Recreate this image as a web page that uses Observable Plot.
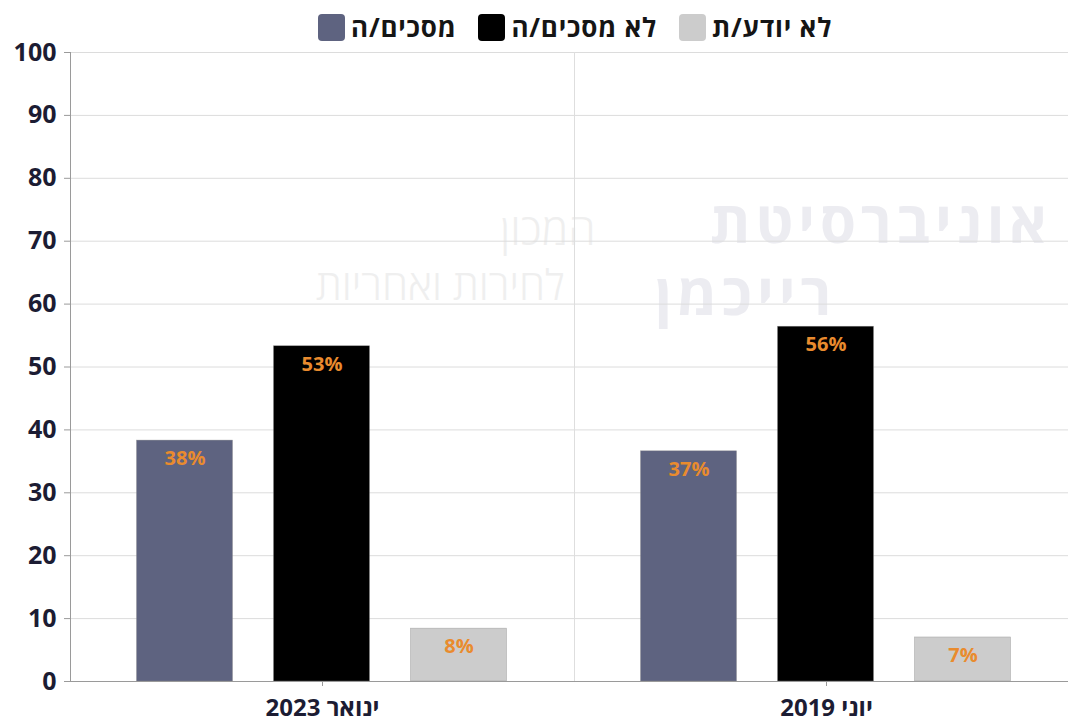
<!DOCTYPE html>
<html lang="he">
<head>
<meta charset="utf-8">
<script src="https://cdn.jsdelivr.net/npm/d3@7"></script>
<script src="https://cdn.jsdelivr.net/npm/@observablehq/plot@0.6"></script>
<style>
  html, body { margin: 0; padding: 0; background: #fff; overflow: hidden; width: 1068px; height: 724px; }
  body { position: relative; font-family: "Open Sans", "DejaVu Sans", sans-serif; }
  #legend { position: absolute; left: 318px; top: 13px; display: flex; direction: ltr; align-items: center; gap: 22px; }
  .item { display: flex; align-items: center; gap: 6px; }
  .sw { width: 27px; height: 27px; border-radius: 4px; display: inline-block; }
  .lt { font-size: 26px; font-weight: 700; color: #151515; line-height: 28px; letter-spacing: 0.8px; }
  #chart { position: absolute; left: 0; top: 40px; width: 1079px; }
  #chart svg { max-width: none !important; }
  .wm { position: absolute; direction: rtl; white-space: nowrap; pointer-events: none; line-height: 1; }
</style>
</head>
<body>
<div class="wm" style="right:16px; top:192px; font-size:58px; font-weight:700; color:#ececf1; letter-spacing:5px;">אוניברסיטת</div>
<div class="wm" style="left:655px; top:264px; font-size:58px; font-weight:700; color:#ececf1; letter-spacing:5px;">רייכמן</div>
<div class="wm" style="left:500px; top:206px; font-size:44px; font-weight:300; color:#efefef;">המכון</div>
<div class="wm" style="left:316px; top:263px; font-size:42px; font-weight:300; color:#efefef;">לחירות ואחריות</div>
<div id="legend"></div>
<div id="chart"></div>
<script>
const groups = ["ינואר 2023", "יוני 2019"];
const series = ["מסכים/ה", "לא מסכים/ה", "לא יודע/ת"];
const colors = ["#5e6380", "#000000", "#cccccc"];
const values2023 = [38.3, 53.3, 8.4];
const values2019 = [36.6, 56.4, 7.0];
const labels2023 = ["38%", "53%", "8%"];
const labels2019 = ["37%", "56%", "7%"];
const yTicks = [0, 10, 20, 30, 40, 50, 60, 70, 80, 90, 100];

const data = [];
series.forEach((s, i) => {
  data.push({group: groups[0], series: s, value: values2023[i], label: labels2023[i]});
  data.push({group: groups[1], series: s, value: values2019[i], label: labels2019[i]});
});

// legend
const legend = document.getElementById("legend");
series.forEach((s, i) => {
  const it = document.createElement("div");
  it.className = "item";
  const sw = document.createElement("span");
  sw.className = "sw";
  sw.style.background = colors[i];
  const t = document.createElement("span");
  t.className = "lt";
  t.dir = "rtl";
  t.textContent = s;
  it.appendChild(sw);
  it.appendChild(t);
  legend.appendChild(it);
});

const chart = Plot.plot({
  width: 1079,
  height: 684,
  marginLeft: 69.5,
  marginRight: 0,
  marginTop: 12,
  marginBottom: 43,
  style: {fontFamily: "'Open Sans', 'DejaVu Sans', sans-serif", background: "transparent", overflow: "visible", maxWidth: "none"},
  fx: {domain: groups, padding: 0, axis: null},
  x: {domain: series, paddingInner: 0.297, paddingOuter: 0.476, axis: null},
  y: {domain: [0, 100], axis: null},
  color: {domain: series, range: colors},
  marks: [
    Plot.gridY(yTicks, {stroke: "#dcdcdc", strokeOpacity: 1}),
    Plot.frame({anchor: "left", stroke: "#dedede"}),
    Plot.frame({anchor: "left", stroke: "#9a9a9a", facetAnchor: "left"}),
    Plot.barY(data, {fx: "group", x: "series", y: "value", fill: "series", stroke: "#8a8a8a", strokeWidth: 0.6, strokeOpacity: 0.6}),
    Plot.ruleY([0], {stroke: "#9a9a9a", strokeWidth: 1.2}),
    Plot.text(data, {fx: "group", x: "series", y: "value", text: "label", dy: 18, fill: "#e98b2e", fontSize: 20, fontWeight: 700}),
    Plot.axisY({ticks: yTicks, tickSize: 6, tickPadding: 8, stroke: "#9a9a9a", fill: "#1c1c33", fontSize: 25, fontWeight: 700, label: null}),
    Plot.axisFx({anchor: "bottom", tickSize: 5, tickPadding: 12, stroke: "#9a9a9a", fill: "#1c1c33", fontSize: 24, fontWeight: 700, label: null})
  ]
});
chart.style.maxWidth = "none";

chart.querySelectorAll("[aria-label='fx-axis tick label'] text").forEach(t => {
  t.setAttribute("direction", "rtl");
  t.style.direction = "rtl";
  t.setAttribute("unicode-bidi", "embed");
});
document.getElementById("chart").appendChild(chart);
</script>
</body>
</html>
